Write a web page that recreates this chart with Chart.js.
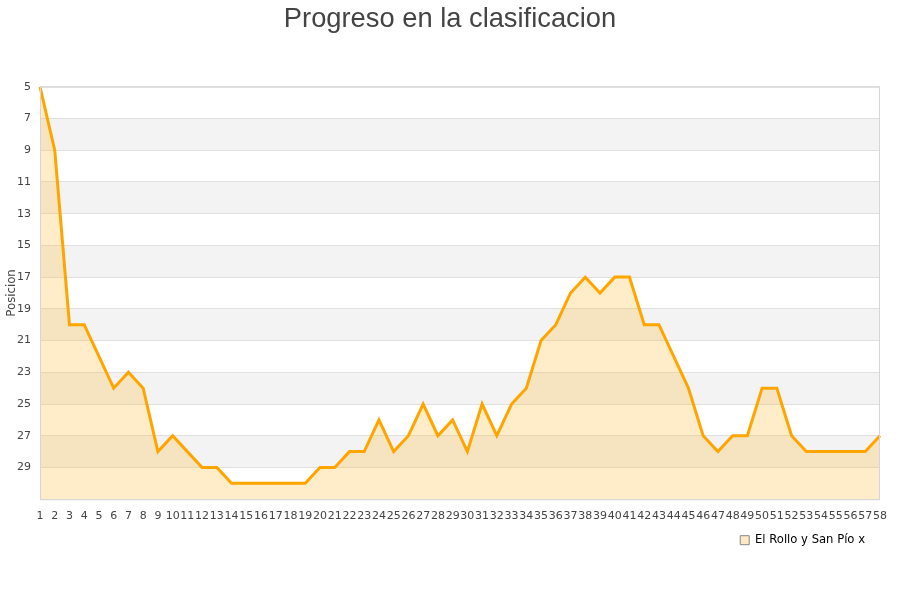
<!DOCTYPE html>
<html>
<head>
<meta charset="utf-8">
<script src="https://cdn.jsdelivr.net/npm/chart.js@4.4.1/dist/chart.umd.min.js"></script>
<style>
  html, body { margin: 0; padding: 0; background: #fff; }
  #wrap { width: 900px; height: 600px; }
</style>
</head>
<body>
<div id="wrap"><canvas id="clasificacion" width="900" height="600"></canvas></div>
<script>
var jornadas = ['1','2','3','4','5','6','7','8','9','10','11','12','13','14','15','16','17','18','19','20',
    '21','22','23','24','25','26','27','28','29','30','31','32','33','34','35','36','37','38','39','40',
    '41','42','43','44','45','46','47','48','49','50','51','52','53','54','55','56','57','58'];
var posiciones = [5, 9, 20, 20, 22, 24, 23, 24, 28, 27, 28, 29, 29, 30, 30, 30, 30, 30, 30, 29,
    29, 28, 28, 26, 28, 27, 25, 27, 26, 28, 25, 27, 25, 24, 21, 20, 18, 17, 18, 17,
    17, 20, 20, 22, 24, 27, 28, 27, 27, 24, 24, 27, 28, 28, 28, 28, 28, 27];
var equipo = 'El Rollo y San Pío x';
var posMin = 5;
var posMax = 31;

// franjas alternas de fondo y marco del area
var bandas = {
    id: 'bandas',
    afterLayout: function (chart) {
        // la leyenda queda algo separada del borde derecho
        chart.legend.right = chart.chartArea.right - 5;
    },
    beforeDraw: function (chart) {
        var ctx = chart.ctx, a = chart.chartArea, y = chart.scales.y;
        ctx.save();
        var i = 0;
        for (var v = posMin; v < posMax; v += 2) {
            if (i % 2 === 1) {
                var y1 = y.getPixelForValue(v), y2 = y.getPixelForValue(v + 2);
                ctx.fillStyle = '#f3f3f3';
                ctx.fillRect(a.left, y1, a.right - a.left, y2 - y1);
            }
            i++;
        }
        ctx.restore();
    },
    afterDraw: function (chart) {
        var ctx = chart.ctx, a = chart.chartArea;
        ctx.save();
        ctx.strokeStyle = '#d6d6d6';
        ctx.lineWidth = 1;
        ctx.strokeRect(a.left + 0.5, a.top + 0.5, a.right - a.left - 1, a.bottom - a.top);
        ctx.restore();
    }
};

new Chart(document.getElementById('clasificacion').getContext('2d'), {
    type: 'line',
    data: {
        labels: jornadas,
        datasets: [
            {
                label: equipo,
                data: posiciones,
                borderColor: '#ffa500',
                backgroundColor: 'rgba(255,180,40,0.25)',
                borderWidth: 3,
                pointRadius: 0,
                tension: 0,
                fill: 'start'
            }
        ]
    },
    options: {
        responsive: false,
        animation: false,
        devicePixelRatio: 1,
        layout: {
            padding: { left: 0, right: 0, top: 0, bottom: 44 }
        },
        scales: {
            x: {
                offset: false,
                grid: { display: false },
                border: { display: false },
                ticks: {
                    autoSkip: false,
                    maxRotation: 0,
                    minRotation: 0,
                    padding: 2,
                    color: '#444',
                    font: { family: 'DejaVu Sans', size: 11 }
                }
            },
            y: {
                reverse: true,
                min: posMin,
                max: posMax,
                border: { display: false },
                grid: { color: '#e0e0e0', drawTicks: false },
                afterFit: function (scale) { scale.width = 40; },
                title: {
                    display: true,
                    text: 'Posicion',
                    color: '#444',
                    font: { family: 'DejaVu Sans', size: 11.7 },
                    padding: { top: 5, bottom: 0 }
                },
                ticks: {
                    stepSize: 2,
                    padding: 9,
                    color: '#444',
                    font: { family: 'DejaVu Sans', size: 11 },
                    callback: function (val) {
                        return val === posMax ? '' : val;
                    }
                }
            },
            derecha: {
                type: 'linear',
                position: 'right',
                display: true,
                grid: { display: false },
                border: { display: false },
                ticks: { display: false },
                afterFit: function (scale) { scale.width = 20; }
            }
        },
        plugins: {
            title: {
                display: true,
                text: 'Progreso en la clasificacion',
                color: '#444',
                font: { family: 'Liberation Sans', size: 27.3, weight: 'normal' },
                padding: { top: 3, bottom: 51 }
            },
            legend: {
                display: true,
                position: 'bottom',
                align: 'end',
                labels: {
                    boxWidth: 9,
                    boxHeight: 9,
                    color: '#222',
                    font: { family: 'DejaVu Sans', size: 11.6 },
                    generateLabels: function (chart) {
                        return [{
                            text: equipo,
                            fillStyle: '#fde9c4',
                            strokeStyle: '#888',
                            lineWidth: 1,
                            datasetIndex: 0
                        }];
                    }
                }
            },
            tooltip: { enabled: false }
        }
    },
    plugins: [bandas]
});
</script>
</body>
</html>
